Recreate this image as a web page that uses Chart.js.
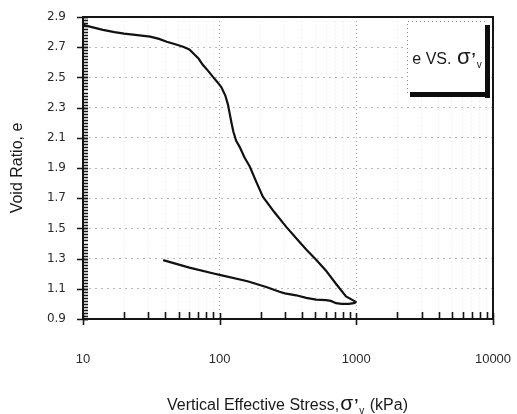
<!DOCTYPE html>
<html>
<head>
<meta charset="utf-8">
<script src="https://cdn.jsdelivr.net/npm/chart.js@4.4.1/dist/chart.umd.min.js"></script>
<style>
  html, body { margin: 0; padding: 0; background: #fff; }
  #wrap { width: 517px; height: 414px; position: relative; }
</style>
</head>
<body>
<div id="wrap"><canvas id="c" width="517" height="414"></canvas></div>
<script>
// Consolidation test: void ratio against vertical effective stress (kPa)
const loadStress = [10, 12, 14, 17, 20, 25, 31, 36, 41, 48, 54, 60, 64, 70, 75, 82, 89, 96, 103, 110, 115, 119, 122, 126, 132, 140, 152, 166, 185, 207, 250, 307, 384, 430, 510, 600, 700, 840, 1000];
const loadVoid   = [2.848, 2.83, 2.815, 2.80, 2.79, 2.78, 2.77, 2.755, 2.736, 2.718, 2.703, 2.685, 2.66, 2.625, 2.585, 2.545, 2.505, 2.47, 2.435, 2.38, 2.32, 2.25, 2.20, 2.14, 2.08, 2.04, 1.97, 1.91, 1.81, 1.71, 1.61, 1.51, 1.41, 1.36, 1.29, 1.22, 1.14, 1.05, 1.012];

const unloadStress = [1000, 960, 880, 780, 711, 650, 601, 508, 430, 363, 300, 274, 219, 160, 100, 92, 60, 38.6];
const unloadVoid   = [1.012, 1.005, 1.0, 1.0, 1.005, 1.02, 1.025, 1.028, 1.04, 1.057, 1.07, 1.08, 1.112, 1.15, 1.192, 1.2, 1.24, 1.29];

const xTickValues = [10, 20, 30, 40, 50, 60, 70, 80, 90, 100, 200, 300, 400, 500, 600, 700, 800, 900, 1000, 2000, 3000, 4000, 5000, 6000, 7000, 8000, 9000, 10000];
const xDecades    = [10, 100, 1000, 10000];
const xTickLabels = ['10', '100', '1000', '10000'];
const yTickValues = [0.9, 1.1, 1.3, 1.5, 1.7, 1.9, 2.1, 2.3, 2.5, 2.7, 2.9];
const yTickLabels = ['0.9', '1.1', '1.3', '1.5', '1.7', '1.9', '2.1', '2.3', '2.5', '2.7', '2.9'];

const toPoints = (xs, ys) => xs.map((v, i) => ({ x: v, y: ys[i] }));

// Plot frame, axis lines, small inward tick marks, x title and the key box
const framePlugin = {
  id: 'frame',
  afterDatasetsDraw(chart) {
    const { ctx, chartArea: a, scales: { x, y } } = chart;
    ctx.save();
    ctx.strokeStyle = '#151515';
    ctx.lineWidth = 2;
    ctx.beginPath();
    ctx.moveTo(a.left, a.top);
    ctx.lineTo(a.right, a.top);
    ctx.lineTo(a.right, a.bottom);
    ctx.lineTo(a.left, a.bottom);
    ctx.closePath();
    ctx.stroke();

    // y minor ticks every 0.02, major ticks crossing the axis
    ctx.lineWidth = 1.3;
    ctx.beginPath();
    for (let k = 0; k <= 100; k++) {
      const py = Math.round(y.getPixelForValue(0.9 + k * 0.02)) + 0.5;
      ctx.moveTo(a.left, py);
      ctx.lineTo(a.left + 5, py);
    }
    ctx.stroke();
    ctx.lineWidth = 1.6;
    ctx.beginPath();
    yTickValues.forEach(v => {
      const py = Math.round(y.getPixelForValue(v)) + 0.5;
      ctx.moveTo(a.left - 6, py);
      ctx.lineTo(a.left + 5, py);
    });
    ctx.stroke();

    // x minor ticks upward, decade ticks crossing the axis
    ctx.lineWidth = 1.6;
    ctx.beginPath();
    xTickValues.forEach(v => {
      const px = Math.round(x.getPixelForValue(v)) + 0.5;
      if (xDecades.includes(v)) {
        ctx.moveTo(px, a.bottom - 6);
        ctx.lineTo(px, a.bottom + 6);
      } else {
        ctx.moveTo(px, a.bottom - 7);
        ctx.lineTo(px, a.bottom);
      }
    });
    ctx.stroke();
    ctx.restore();
  },
  afterDraw(chart) {
    const { ctx, chartArea: a, scales: { x } } = chart;
    ctx.save();
    ctx.fillStyle = '#1a1a1a';
    ctx.textBaseline = 'alphabetic';

    // x-axis title with sigma and subscript
    const parts = [
      { t: 'Vertical Effective Stress,', f: '16px "Liberation Sans", Arial, sans-serif', dy: 0 },
      { t: 'σ', f: '21px "Liberation Sans", Arial, sans-serif', dy: 0 },
      { t: '\u2019', f: 'bold 15px "Liberation Sans", Arial, sans-serif', dy: -1 },
      { t: 'v', f: '10px "Liberation Sans", Arial, sans-serif', dy: 4 },
      { t: ' (kPa)', f: '16px "Liberation Sans", Arial, sans-serif', dy: 0 }
    ];
    let total = 0;
    parts.forEach(p => { ctx.font = p.f; p.w = ctx.measureText(p.t).width; total += p.w + 1; });
    let cx = (x.left + x.right) / 2 - total / 2;
    const base = x.bottom - 4;
    parts.forEach(p => { ctx.font = p.f; ctx.fillText(p.t, cx, base + p.dy); cx += p.w + 1; });

    // key box with heavy drop shadow, tucked into the upper right corner
    const bw = 79, bh = 72;
    const bx = a.right - 86, by = a.top + 4;
    ctx.fillStyle = '#fff';
    ctx.fillRect(bx, by, bw, bh);
    ctx.strokeStyle = 'rgba(0,0,0,0.45)';
    ctx.lineWidth = 1;
    ctx.setLineDash([1, 3]);
    ctx.beginPath();
    ctx.moveTo(bx + 0.5, by + bh);
    ctx.lineTo(bx + 0.5, by + 0.5);
    ctx.lineTo(bx + bw, by + 0.5);
    ctx.stroke();
    ctx.setLineDash([]);
    ctx.fillStyle = '#0d0d0d';
    ctx.fillRect(bx + bw - 1, by + 4, 5, bh + 1);
    ctx.fillRect(bx + 3, by + bh - 1, bw + 1, 5);

    const lp = [
      { t: 'e VS. ', f: '16px "Liberation Sans", Arial, sans-serif', dy: 0 },
      { t: 'σ', f: '22px "Liberation Sans", Arial, sans-serif', dy: 0 },
      { t: '\u2019', f: 'bold 15px "Liberation Sans", Arial, sans-serif', dy: -1 },
      { t: 'v', f: '10px "Liberation Sans", Arial, sans-serif', dy: 4 }
    ];
    let lw = 0;
    lp.forEach(p => { ctx.font = p.f; p.w = ctx.measureText(p.t).width; lw += p.w + 1; });
    let lx = bx + bw / 2 - lw / 2 + 1;
    ctx.fillStyle = '#1a1a1a';
    lp.forEach(p => { ctx.font = p.f; ctx.fillText(p.t, lx, by + 43 + p.dy); lx += p.w + 1; });
    ctx.restore();
  }
};

new Chart(document.getElementById('c'), {
  type: 'scatter',
  data: {
    datasets: [
      { label: 'Loading', data: toPoints(loadStress, loadVoid), showLine: true, borderColor: '#111', borderWidth: 2.2, pointRadius: 0, tension: 0, fill: false },
      { label: 'Unloading', data: toPoints(unloadStress, unloadVoid), showLine: true, borderColor: '#111', borderWidth: 2.2, pointRadius: 0, tension: 0, fill: false }
    ]
  },
  options: {
    responsive: false,
    animation: false,
    devicePixelRatio: 1,
    layout: { padding: { top: 17, right: 24, left: 0, bottom: 0 } },
    plugins: { legend: { display: false }, tooltip: { enabled: false } },
    scales: {
      x: {
        type: 'logarithmic',
        min: 10,
        max: 10000,
        afterBuildTicks: s => { s.ticks = xTickValues.map(v => ({ value: v, major: xDecades.includes(v) })); },
        afterFit: s => { s.height = 95; s.paddingLeft = 0; s.paddingRight = 0; },
        ticks: {
          autoSkip: false,
          maxRotation: 0,
          padding: 33,
          color: '#2a2a2a',
          font: { family: '"Liberation Sans", Arial, sans-serif', size: 13 },
          callback: v => { const i = xDecades.indexOf(v); return i >= 0 ? xTickLabels[i] : ''; }
        },
        grid: {
          drawTicks: false,
          color: c => (c.tick && xDecades.includes(c.tick.value)) ? 'rgba(0,0,0,0.35)' : 'rgba(0,0,0,0.1)',
          lineWidth: 1
        },
        border: { display: false, dash: [1, 3] },
        title: { display: false }
      },
      y: {
        type: 'linear',
        min: 0.9,
        max: 2.9,
        afterBuildTicks: s => { s.ticks = yTickValues.map(v => ({ value: v })); },
        afterFit: s => { s.width = 83; s.paddingTop = 0; s.paddingBottom = 0; },
        ticks: {
          padding: 17,
          color: '#2a2a2a',
          font: { family: '"DejaVu Sans", Verdana, sans-serif', size: 12 },
          callback: (v, i) => yTickLabels[i]
        },
        grid: {
          drawTicks: false,
          color: 'rgba(0,0,0,0.28)',
          lineWidth: 1
        },
        border: { display: false, dash: [2, 4] },
        title: {
          display: true,
          text: 'Void Ratio, e',
          color: '#1a1a1a',
          font: { family: '"Liberation Sans", Arial, sans-serif', size: 16 },
          padding: { top: 8, bottom: 0 }
        }
      }
    }
  },
  plugins: [framePlugin]
});
</script>
</body>
</html>
